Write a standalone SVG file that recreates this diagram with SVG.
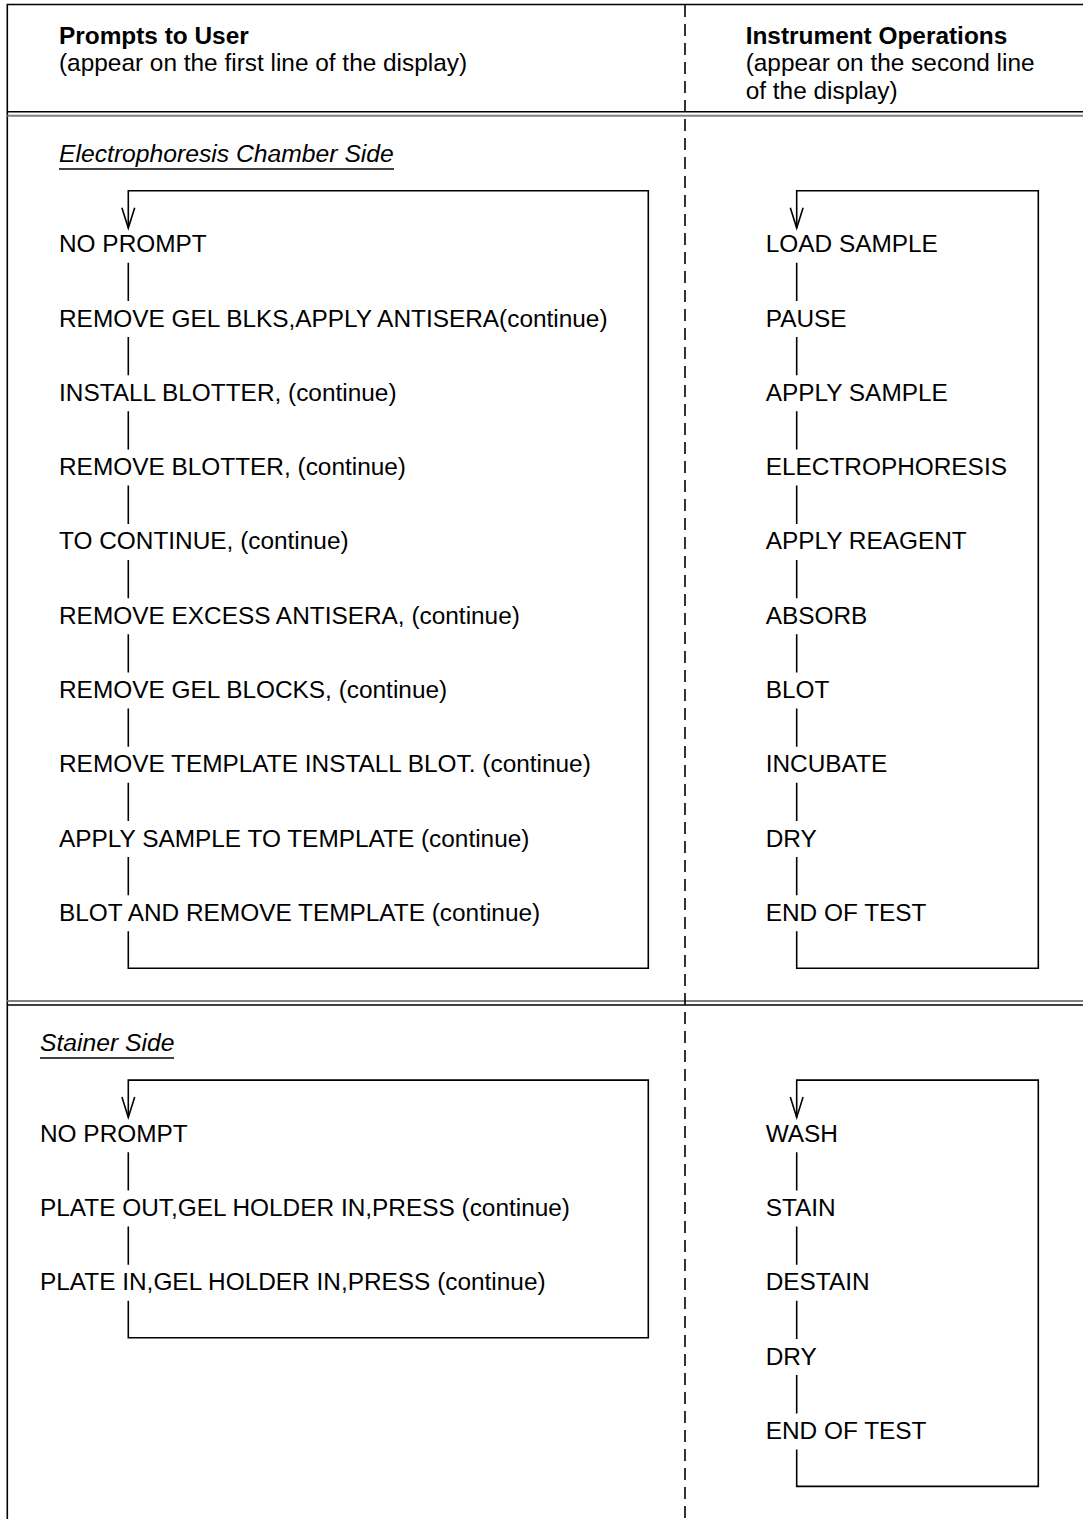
<svg xmlns="http://www.w3.org/2000/svg" width="1083" height="1519" viewBox="0 0 1083 1519">
<style>
text{font-family:"Liberation Sans",Arial,sans-serif;font-size:24.4px;fill:#000}
.b{font-weight:bold}
.i{font-style:italic;font-size:24.7px}
.ln{stroke:#000;stroke-width:1.6;fill:none}
.gr{stroke:#808080;stroke-width:2;fill:none}
.dash{stroke:#000;stroke-width:1.6;stroke-dasharray:12 7;fill:none}
</style>
<defs>
<marker id="vee" viewBox="0 -8 22 16" markerWidth="22" markerHeight="16" refX="20.3" refY="0" orient="auto" markerUnits="userSpaceOnUse" overflow="visible">
<path d="M0,-6.4 L20.3,0 L0,6.4" fill="none" stroke="#000" stroke-width="1.6"/>
</marker>
</defs>
<rect width="1083" height="1519" fill="#fff"/>
<g id="frame">
<path class="ln" d="M7.3,1519 V4.5 H1083"/>
<line class="ln" x1="7.3" y1="111.7" x2="1083" y2="111.7"/>
<line class="gr" x1="7.3" y1="115.7" x2="1083" y2="115.7"/>
<line class="gr" x1="7.3" y1="1001" x2="1083" y2="1001"/>
<line class="ln" x1="7.3" y1="1005" x2="1083" y2="1005"/>
<line class="dash" x1="685" y1="5" x2="685" y2="1519"/>
</g>
<g id="header-left">
<text class="b" x="59" y="43.5">Prompts to User</text>
<text x="59" y="71">(appear on the first line of the display)</text>
</g>
<g id="header-right">
<text class="b" x="745.7" y="43.5">Instrument Operations</text>
<text x="745.7" y="71">(appear on the second line</text>
<text x="745.7" y="98.5">of the display)</text>
</g>
<g id="title-ecs">
<text class="i" x="59" y="161.7">Electrophoresis Chamber Side</text>
<line class="ln" x1="59" y1="169" x2="394" y2="169"/>
</g>
<g id="title-stainer">
<text class="i" x="40" y="1051">Stainer Side</text>
<line class="ln" x1="40" y1="1058" x2="174" y2="1058"/>
</g>
<g id="connectors">
<path class="ln" marker-end="url(#vee)" d="M128.3,931.2 V968.3 H648.3 V190.7 H128.3 V228"/>
<path class="ln" d="M128.3,262.8 V301.1 M128.3,337.1 V375.3 M128.3,411.3 V449.6 M128.3,485.6 V523.9 M128.3,559.9 V598.2 M128.3,634.2 V672.4 M128.3,708.4 V746.7 M128.3,782.7 V821 M128.3,857 V895.2"/>
<path class="ln" marker-end="url(#vee)" d="M796.7,931.2 V968.3 H1038.3 V190.7 H796.7 V228"/>
<path class="ln" d="M796.7,262.8 V301.1 M796.7,337.1 V375.3 M796.7,411.3 V449.6 M796.7,485.6 V523.9 M796.7,559.9 V598.2 M796.7,634.2 V672.4 M796.7,708.4 V746.7 M796.7,782.7 V821 M796.7,857 V895.2"/>
<path class="ln" marker-end="url(#vee)" d="M128.3,1300.8 V1337.8 H648.3 V1080.1 H128.3 V1117.4"/>
<path class="ln" d="M128.3,1152.2 V1190.5 M128.3,1226.5 V1264.8"/>
<path class="ln" marker-end="url(#vee)" d="M796.7,1449.4 V1486.4 H1038.3 V1080.1 H796.7 V1117.4"/>
<path class="ln" d="M796.7,1152.2 V1190.5 M796.7,1226.5 V1264.8 M796.7,1300.8 V1339.1 M796.7,1375.1 V1413.4"/>
</g>
<g id="ecs-prompts">
<g id="p1"><text x="59" y="252.3">NO PROMPT</text></g>
<g id="p2"><text x="59" y="326.6">REMOVE GEL BLKS,APPLY ANTISERA(continue)</text></g>
<g id="p3"><text x="59" y="400.8">INSTALL BLOTTER, (continue)</text></g>
<g id="p4"><text x="59" y="475.1">REMOVE BLOTTER, (continue)</text></g>
<g id="p5"><text x="59" y="549.4">TO CONTINUE, (continue)</text></g>
<g id="p6"><text x="59" y="623.7">REMOVE EXCESS ANTISERA, (continue)</text></g>
<g id="p7"><text x="59" y="697.9">REMOVE GEL BLOCKS, (continue)</text></g>
<g id="p8"><text x="59" y="772.2">REMOVE TEMPLATE INSTALL BLOT. (continue)</text></g>
<g id="p9"><text x="59" y="846.5">APPLY SAMPLE TO TEMPLATE (continue)</text></g>
<g id="p10"><text x="59" y="920.7">BLOT AND REMOVE TEMPLATE (continue)</text></g>
</g>
<g id="ecs-operations">
<g id="o1"><text x="765.7" y="252.3">LOAD SAMPLE</text></g>
<g id="o2"><text x="765.7" y="326.6">PAUSE</text></g>
<g id="o3"><text x="765.7" y="400.8">APPLY SAMPLE</text></g>
<g id="o4"><text x="765.7" y="475.1">ELECTROPHORESIS</text></g>
<g id="o5"><text x="765.7" y="549.4">APPLY REAGENT</text></g>
<g id="o6"><text x="765.7" y="623.7">ABSORB</text></g>
<g id="o7"><text x="765.7" y="697.9">BLOT</text></g>
<g id="o8"><text x="765.7" y="772.2">INCUBATE</text></g>
<g id="o9"><text x="765.7" y="846.5">DRY</text></g>
<g id="o10"><text x="765.7" y="920.7">END OF TEST</text></g>
</g>
<g id="stainer-prompts">
<g id="sp1"><text x="40" y="1141.7">NO PROMPT</text></g>
<g id="sp2"><text x="40" y="1216">PLATE OUT,GEL HOLDER IN,PRESS (continue)</text></g>
<g id="sp3"><text x="40" y="1290.3">PLATE IN,GEL HOLDER IN,PRESS (continue)</text></g>
</g>
<g id="stainer-operations">
<g id="so1"><text x="765.7" y="1141.7">WASH</text></g>
<g id="so2"><text x="765.7" y="1216">STAIN</text></g>
<g id="so3"><text x="765.7" y="1290.3">DESTAIN</text></g>
<g id="so4"><text x="765.7" y="1364.6">DRY</text></g>
<g id="so5"><text x="765.7" y="1438.9">END OF TEST</text></g>
</g>
</svg>
